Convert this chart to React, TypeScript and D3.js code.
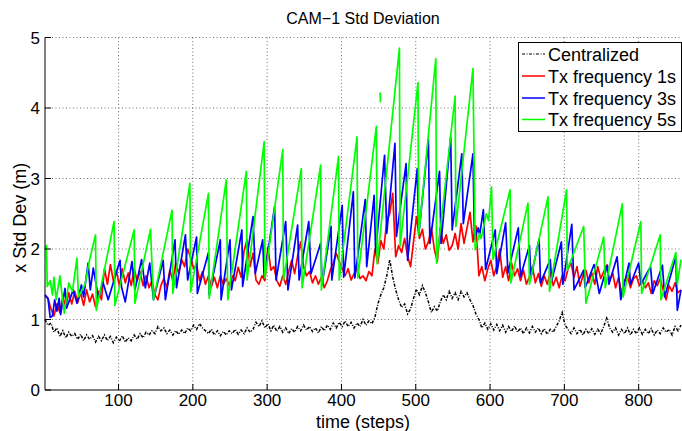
import React from 'react';
import * as d3 from 'd3';

const W = 682;
const H = 431;

const xTicks = [100, 200, 300, 400, 500, 600, 700, 800];
const yTicks = [0, 1, 2, 3, 4, 5];
const legendLabels = ['Centralized', 'Tx frequency 1s', 'Tx frequency 3s', 'Tx frequency 5s'];

// Centralized and Tx 1s are sampled every 4 steps starting at step 1
const sampleStart = 1;
const sampleEvery = 4;

const centralizedValues = [
  1.00, 0.92, 0.95, 0.82, 0.88, 0.76, 0.84, 0.74, 0.82, 0.76,
  0.80, 0.72, 0.79, 0.70, 0.78, 0.72, 0.77, 0.68, 0.76, 0.70,
  0.78, 0.70, 0.76, 0.67, 0.75, 0.69, 0.77, 0.68, 0.74, 0.70,
  0.78, 0.72, 0.80, 0.74, 0.82, 0.78, 0.84, 0.80, 0.90, 0.84,
  0.88, 0.80, 0.85, 0.78, 0.84, 0.79, 0.85, 0.80, 0.88, 0.84,
  0.92, 0.86, 0.94, 0.88, 0.84, 0.80, 0.86, 0.78, 0.84, 0.77,
  0.83, 0.78, 0.84, 0.80, 0.86, 0.79, 0.85, 0.80, 0.88, 0.82,
  0.86, 0.96, 0.90, 0.98, 0.88, 0.94, 0.84, 0.92, 0.83, 0.90,
  0.82, 0.88, 0.80, 0.87, 0.82, 0.90, 0.84, 0.92, 0.85, 0.90,
  0.83, 0.88, 0.81, 0.90, 0.84, 0.92, 0.86, 0.95, 0.88, 0.96,
  0.90, 0.98, 0.90, 0.96, 0.88, 0.95, 0.90, 1.00, 0.92, 0.98,
  0.94, 1.03, 1.22, 1.35, 1.45, 1.62, 1.85, 1.60, 1.42, 1.28,
  1.17, 1.22, 1.08, 1.15, 1.30, 1.43, 1.35, 1.48, 1.38, 1.25,
  1.10, 1.18, 1.12, 1.25, 1.35, 1.28, 1.40, 1.30, 1.38, 1.28,
  1.40, 1.32, 1.38, 1.28, 1.20, 1.08, 1.00, 0.88, 0.95, 0.86,
  0.94, 0.85, 0.93, 0.84, 0.92, 0.82, 0.90, 0.83, 0.91, 0.82,
  0.88, 0.80, 0.88, 0.81, 0.90, 0.82, 0.88, 0.80, 0.87, 0.79,
  0.86, 0.82, 0.90, 0.98, 1.10, 0.92, 0.86, 0.80, 0.88, 0.80,
  0.86, 0.78, 0.86, 0.80, 0.87, 0.79, 0.86, 0.80, 0.90, 1.02,
  0.88, 0.82, 0.88, 0.78, 0.86, 0.80, 0.88, 0.78, 0.86, 0.80,
  0.88, 0.79, 0.86, 0.80, 0.87, 0.78, 0.85, 0.80, 0.88, 0.82,
  0.86, 0.78, 0.90, 0.84, 0.92,
];

const tx1Values = [
  1.33, 1.30, 1.15, 1.05, 1.22, 1.10, 1.32, 1.18, 1.38, 1.22,
  1.40, 1.24, 1.38, 1.20, 1.42, 1.25, 1.36, 1.18, 1.40, 1.28,
  1.72, 1.50, 1.78, 1.55, 1.70, 1.48, 1.72, 1.52, 1.66, 1.48,
  1.72, 1.55, 1.68, 1.48, 1.62, 1.45, 1.55, 1.35, 1.28, 1.48,
  1.58, 1.45, 1.70, 1.55, 1.80, 1.65, 1.85, 1.75, 2.00, 1.88,
  1.72, 1.78, 1.55, 1.68, 1.50, 1.62, 1.47, 1.60, 1.45, 1.62,
  1.50, 1.58, 1.48, 1.62, 1.55, 1.74, 1.60, 1.98, 2.13, 1.75,
  1.94, 1.56, 1.50, 1.62, 1.55, 2.03, 1.70, 1.75, 1.55, 1.47,
  1.62, 1.50, 1.68, 1.84, 1.65, 1.90, 2.10, 1.75, 1.62, 1.68,
  1.52, 1.62, 1.50, 1.60, 1.45, 1.55, 1.70, 1.80, 1.94, 1.82,
  1.72, 1.62, 1.72, 1.56, 1.65, 1.72, 1.58, 1.62, 1.55, 1.68,
  1.62, 1.99, 1.80, 2.12, 2.00, 2.40, 2.50, 2.79, 1.89, 2.05,
  1.95, 2.15, 1.90, 1.75, 2.10, 2.46, 2.15, 2.28, 2.00, 2.10,
  2.30, 2.00, 1.82, 2.30, 2.08, 2.20, 1.98, 2.05, 2.22, 2.00,
  2.36, 2.08, 2.30, 2.52, 2.10, 2.33, 1.62, 1.75, 1.55, 1.72,
  1.84, 1.62, 1.76, 2.00, 1.60, 1.75, 1.55, 1.80, 1.62, 1.72,
  1.55, 1.70, 1.50, 1.61, 1.75, 1.52, 1.65, 1.47, 1.62, 1.50,
  1.66, 1.48, 1.60, 1.45, 1.62, 1.55, 1.72, 1.80, 1.60, 1.75,
  1.47, 1.62, 1.70, 1.52, 1.66, 1.50, 1.75, 1.58, 1.68, 1.77,
  1.55, 1.66, 1.45, 1.60, 1.37, 1.55, 1.62, 1.45, 1.58, 1.62,
  1.48, 1.55, 1.45, 1.52, 1.37, 1.55, 1.48, 1.58, 1.42, 1.28,
  1.48, 1.40, 1.52, 1.38, 1.42,
];

const tx3Steps = [
  1, 5, 8, 11, 14, 17, 20, 22, 28, 30, 39, 44, 50, 53, 59, 62, 66, 73, 79, 86,
  102, 104, 109, 118, 122, 131, 136, 142, 147, 160, 163, 176, 178, 190, 193, 205, 206, 221, 222, 237,
  238, 250, 252, 266, 267, 281, 284, 294, 296, 310, 312, 325, 328, 341, 343, 356, 359, 372, 374, 386,
  387, 401, 403, 416, 418, 432, 434, 444, 446, 458, 461, 472, 474, 487, 489, 502, 504, 517, 519, 532,
  534, 547, 549, 562, 564, 577, 579, 584, 586, 591, 594, 607, 609, 621, 624, 638, 641, 653, 655, 666,
  668, 681, 683, 696, 698, 710, 713, 726, 728, 740, 747, 758, 760, 771, 776, 787, 789, 800, 803, 816,
  819, 832, 835, 850, 852, 857,
];
const tx3Values = [
  1.35, 1.3, 1.03, 1.05, 1.28, 1.12, 1.3, 1.07, 1.44, 1.16, 1.42, 1.23, 1.49, 1.32, 1.80, 1.42, 1.73, 1.30, 1.53, 1.28,
  1.84, 1.46, 1.25, 1.82, 1.42, 1.85, 1.45, 1.80, 1.28, 1.84, 1.28, 2.13, 1.45, 2.2, 1.56, 2.17, 1.37, 1.95, 1.35, 2.13,
  1.28, 2.13, 1.42, 2.27, 1.47, 2.46, 1.65, 2.13, 1.6, 2.60, 1.56, 2.39, 1.42, 2.34, 1.56, 2.39, 1.65, 2.08, 1.5, 2.32,
  1.56, 2.62, 1.6, 2.81, 1.59, 2.70, 1.75, 2.76, 1.95, 3.33, 2.22, 3.50, 2.18, 3.21, 1.84, 3.14, 2.20, 3.55, 2.08, 3.10,
  2.08, 3.59, 2.27, 3.35, 2.36, 3.35, 2.14, 2.3, 2.2, 2.56, 1.71, 2.27, 1.65, 2.37, 1.66, 2.3, 1.61, 2.05, 1.6, 2.14,
  1.52, 1.85, 1.55, 2.1, 1.5, 2.35, 1.42, 1.7, 1.45, 1.78, 1.37, 1.77, 1.5, 1.89, 1.28, 1.80, 1.5, 1.80, 1.5, 1.75,
  1.37, 1.77, 1.32, 1.89, 1.13, 1.42,
];

const tx5Steps = [
  1, 3, 4, 8, 11, 13, 16, 21, 27, 33, 38, 44, 46, 55, 60, 69, 70, 94, 95, 121,
  122, 143, 147, 172, 173, 196, 197, 221, 222, 245, 247, 272, 273, 296, 297, 321, 322, 346, 347, 372,
  373, 396, 397, 421, 422, 447, 448, 478, 479, 503, 504, 527, 528, 553, 554, 577, 580, 586, 588, 595,
  598, 602, 604, 627, 628, 651, 653, 678, 680, 703, 704, 726, 729, 753, 755, 778, 779, 803, 804, 829,
  830, 850, 852, 857,
];
const tx5Values = [
  2.0, 2.05, 1.47, 1.55, 1.35, 1.6, 1.28, 1.62, 1.09, 1.52, 1.4, 1.87, 1.32, 1.5, 1.8, 2.2, 1.13, 2.39, 1.2, 2.27,
  1.23, 2.28, 1.28, 2.55, 1.37, 2.93, 1.39, 2.79, 1.3, 2.98, 1.28, 3.10, 1.56, 3.52, 1.59, 3.41, 1.56, 3.14, 1.45, 3.19,
  1.42, 3.31, 1.56, 3.59, 1.59, 3.74, 1.79, 4.85, 2.04, 4.36, 2.2, 4.70, 1.80, 4.17, 2.32, 4.56, 1.99, 2.22, 2.15, 2.5,
  2.4, 2.88, 1.85, 2.84, 1.52, 2.65, 1.5, 2.74, 1.40, 2.84, 1.7, 2.32, 1.23, 2.17, 1.45, 2.64, 1.32, 2.39, 1.37, 2.2,
  1.28, 1.95, 1.5, 1.85,
];
// short isolated green fragment near step 452
const tx5FragmentSteps = [452, 452.5];
const tx5FragmentValues = [4.22, 4.08];

const FONT = '"Liberation Sans", Arial, Helvetica, sans-serif';

export default function App() {
  const left = 45;
  const right = 681;
  const top = 37.5;
  const bottom = 390;

  const x = d3.scaleLinear().domain([1, 857]).range([left, right]);
  const y = d3.scaleLinear().domain([0, 5]).range([bottom, top]);
  const line = d3
    .line<[number, number]>()
    .x((d) => x(d[0]))
    .y((d) => y(d[1]));

  const centralized = centralizedValues.map((v, i) => [sampleStart + i * sampleEvery, v] as [number, number]);
  const tx1 = tx1Values.map((v, i) => [sampleStart + i * sampleEvery, v] as [number, number]);
  const tx3 = tx3Steps.map((s, i) => [s, tx3Values[i]] as [number, number]);
  const tx5 = tx5Steps.map((s, i) => [s, tx5Values[i]] as [number, number]);
  const tx5Frag = tx5FragmentSteps.map((s, i) => [s, tx5FragmentValues[i]] as [number, number]);

  const grid = { stroke: '#333', strokeWidth: 0.7, strokeDasharray: '1,2.5' };
  const lw = 1.7;

  const legX = 518.5;
  const legY = 42.5;
  const legW = 163;
  const legH = 89;
  const legRows = [54, 76, 98, 119.5];
  const legColors = ['#000', '#ff0000', '#0000ff', '#00ff00'];

  return (
    <svg
      width={W}
      height={H}
      style={{ position: 'absolute', left: 0, top: 0, background: '#fff' }}
      fontFamily={FONT}
    >
      <rect x={0} y={0} width={W} height={H} fill="#fff" />
      {/* grid */}
      {xTicks.map((t) => (
        <line key={'gx' + t} x1={x(t)} x2={x(t)} y1={top} y2={bottom} {...grid} />
      ))}
      {yTicks.filter((t) => t > 0).map((t) => (
        <line key={'gy' + t} x1={left} x2={right} y1={y(t)} y2={y(t)} {...grid} />
      ))}

      {/* series */}
      <path
        d={line(centralized) || ''}
        fill="none"
        stroke="#000"
        strokeWidth={1.5}
        strokeDasharray="3,1.5,1,1.5"
      />
      <path d={line(tx1) || ''} fill="none" stroke="#ff0000" strokeWidth={lw} strokeLinejoin="round" />
      <path d={line(tx3) || ''} fill="none" stroke="#0000ff" strokeWidth={lw} strokeLinejoin="round" />
      <path d={line(tx5) || ''} fill="none" stroke="#00ff00" strokeWidth={lw} strokeLinejoin="round" />
      <path d={line(tx5Frag) || ''} fill="none" stroke="#00ff00" strokeWidth={lw} />

      {/* axes */}
      <line x1={left} x2={left} y1={top} y2={bottom} stroke="#000" strokeWidth={1} />
      <line x1={left} x2={right} y1={bottom} y2={bottom} stroke="#000" strokeWidth={1} />
      {xTicks.map((t) => (
        <g key={'xt' + t}>
          <line x1={x(t)} x2={x(t)} y1={bottom} y2={bottom - 6} stroke="#000" />
          <text x={x(t)} y={406} fontSize={17} textAnchor="middle" fill="#000">
            {t}
          </text>
        </g>
      ))}
      {yTicks.map((t) => (
        <g key={'yt' + t}>
          <line x1={left} x2={left + 6} y1={y(t)} y2={y(t)} stroke="#000" />
          <text x={40} y={y(t) + 6} fontSize={17} textAnchor="end" fill="#000">
            {t}
          </text>
        </g>
      ))}

      {/* labels */}
      <text x={(left + right) / 2} y={24} fontSize={16} textAnchor="middle" fill="#000">
        CAM−1 Std Deviation
      </text>
      <text x={(left + right) / 2} y={427.5} fontSize={18} textAnchor="middle" fill="#000">
        time (steps)
      </text>
      <text
        transform={`translate(26, ${(top + bottom) / 2 + 4}) rotate(-90)`}
        fontSize={18}
        textAnchor="middle"
        fill="#000"
      >
        x Std Dev (m)
      </text>

      {/* legend */}
      <rect x={legX} y={legY} width={legW} height={legH} fill="#fff" stroke="#000" strokeWidth={1} />
      {legendLabels.map((lab, i) => (
        <g key={lab}>
          <line
            x1={522}
            x2={545}
            y1={legRows[i]}
            y2={legRows[i]}
            stroke={legColors[i]}
            strokeWidth={i === 0 ? 1 : 1.5}
            strokeDasharray={i === 0 ? '3,1.5,1,1.5' : undefined}
          />
          <text x={548} y={legRows[i] + 6.5} fontSize={18} fill="#000">
            {lab}
          </text>
        </g>
      ))}
    </svg>
  );
}
